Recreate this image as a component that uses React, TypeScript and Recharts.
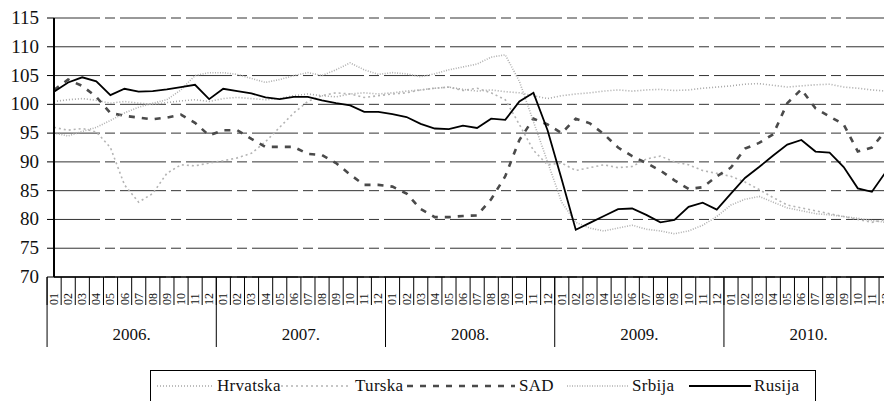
import React from 'react';
import { LineChart, Line, XAxis, YAxis, CartesianGrid } from 'recharts';

const months = ['01', '02', '03', '04', '05', '06', '07', '08', '09', '10', '11', '12'];
const years = ['2006.', '2007.', '2008.', '2009.', '2010.'];
const yTicks = [70, 75, 80, 85, 90, 95, 100, 105, 110, 115];

const hrvatska = [
  100.5, 100.8, 101.0, 100.7, 100.2, 100.5, 100.2, 100.0, 100.3, 100.6, 100.8, 100.5,
  101.0, 101.2, 101.0, 100.8, 101.0, 101.5, 101.8, 101.5, 101.3, 101.8, 102.0, 101.8,
  102.0, 102.3, 102.5, 102.8, 103.0, 102.6, 102.3, 102.5, 102.2, 102.0, 101.5, 101.0,
  101.5, 101.8, 102.0, 102.3, 102.5, 102.3, 102.5, 102.6, 102.4, 102.5, 102.8, 103.0,
  103.2, 103.5, 103.6, 103.3, 103.0, 103.2, 103.4, 103.5, 103.0, 102.8, 102.5, 102.3,
];
const turska = [
  96.0, 95.5, 95.8, 95.2, 92.5, 86.0, 83.0, 84.5, 88.0, 89.5, 89.3, 89.8,
  90.2, 90.7, 91.5, 93.5, 96.0, 98.5, 100.5, 101.5, 102.0, 101.8, 101.2, 101.5,
  101.8, 102.0, 102.5, 102.8, 103.0, 102.4, 102.8, 102.0, 100.8, 96.5, 92.0, 89.5,
  89.8, 88.5, 89.0, 89.5, 89.0, 89.2, 90.5, 91.0, 90.0, 89.5, 88.5, 88.0,
  87.5, 86.5, 85.2, 83.8, 82.5, 82.0, 81.5, 81.0, 80.5, 80.0, 79.5, 80.0,
];
const sad = [
  102.5, 104.3, 103.2, 101.3, 98.5, 98.0, 97.7, 97.4, 97.7, 98.2, 96.8, 94.6,
  95.5, 95.5, 94.0, 92.6, 92.6, 92.6, 91.4, 91.2, 89.8, 87.8, 86.0, 86.0,
  85.7, 84.5, 81.8, 80.4, 80.4, 80.6, 80.7, 83.5, 87.5, 93.8, 97.5, 96.5,
  95.0, 97.5, 96.7, 94.8, 92.5, 91.0, 89.8, 88.5, 86.8, 85.3, 85.6, 87.5,
  89.0, 92.3, 93.3, 94.8, 100.2, 102.6, 99.3, 97.9, 96.5, 91.8, 92.5, 95.5,
];
const srbija = [
  95.0, 94.5, 95.3, 96.0, 97.2, 98.5, 99.5, 100.2, 100.8, 102.5, 105.0, 105.5,
  105.5, 105.2, 104.5, 103.8, 104.3, 105.0, 105.5, 105.0, 106.0, 107.2, 106.0, 105.2,
  105.5, 105.3, 104.8, 105.3, 106.0, 106.5, 107.0, 108.2, 108.6, 104.0, 97.0, 90.0,
  83.0, 79.5, 78.5, 78.0, 78.5, 79.0, 78.3, 78.0, 77.5, 78.0, 79.0, 80.5,
  82.5, 83.5, 84.0, 83.0, 82.0, 81.5, 81.0, 80.8, 80.5, 80.2, 79.8, 79.5,
];
const rusija = [
  102.2, 103.8, 104.7, 104.0, 101.6, 102.7, 102.2, 102.3, 102.6, 103.0, 103.4, 100.9,
  102.7, 102.3, 101.9, 101.2, 100.9, 101.3, 101.3, 100.7, 100.2, 99.8, 98.7, 98.7,
  98.3, 97.8, 96.6, 95.8, 95.7, 96.3, 95.9, 97.5, 97.3, 100.5, 102.0, 95.5,
  87.0, 78.2, 79.4, 80.6, 81.8, 81.9, 80.8, 79.5, 79.9, 82.2, 82.9, 81.7,
  84.5, 87.2, 89.1, 91.1, 93.0, 93.8, 91.8, 91.6, 89.1, 85.4, 84.8, 88.3,
];

const data = rusija.map((_, i) => ({
  idx: i,
  Hrvatska: hrvatska[i],
  Turska: turska[i],
  SAD: sad[i],
  Srbija: srbija[i],
  Rusija: rusija[i],
}));

const CHART_W = 892;
const PLOT_LEFT = 54;
const PLOT_RIGHT = 886;
const BAND = (PLOT_RIGHT - PLOT_LEFT) / data.length;
const SERIF = '"Liberation Serif", "Times New Roman", serif';

const MonthTick = (props: any) => {
  const { x, y, payload, index } = props;
  const i = typeof payload?.value === 'number' ? payload.value : Number(index);
  const left = x - BAND / 2;
  return (
    <g>
      <line x1={left} x2={left} y1={y} y2={y + 28} stroke="#000" strokeWidth={1} />
      {i % 12 === 0 && (
        <line x1={left} x2={left} y1={y} y2={y + 70} stroke="#000" strokeWidth={1} />
      )}
      {i === data.length - 1 && (
        <line x1={x + BAND / 2} x2={x + BAND / 2} y1={y} y2={y + 70} stroke="#000" strokeWidth={1} />
      )}
      <text
        transform={`translate(${x + 4},${y + 28}) rotate(-90)`}
        fontSize={12}
        fontFamily={SERIF}
        fill="#111"
      >
        {months[i % 12]}
      </text>
      {i % 12 === 6 && (
        <text x={left} y={y + 63} textAnchor="middle" fontSize={17} fontFamily={SERIF} fill="#111">
          {years[Math.floor(i / 12)]}
        </text>
      )}
    </g>
  );
};

const YTick = (props: any) => {
  const { x, y, payload } = props;
  return (
    <text x={x} y={y} dy={6} textAnchor="end" fontSize={19} fontFamily={SERIF} fill="#111">
      {payload.value}
    </text>
  );
};

const series = [
  { key: 'Hrvatska', color: '#a8a8a8', width: 1.6, dash: '1 2' },
  { key: 'Turska', color: '#b4b4b4', width: 1.6, dash: '2 3' },
  { key: 'SAD', color: '#4a4a4a', width: 2.6, dash: '6 7' },
  { key: 'Srbija', color: '#b0b0b0', width: 1.6, dash: '1 1.5' },
  { key: 'Rusija', color: '#000000', width: 1.8, dash: undefined as string | undefined },
];

const legendItems = [
  { key: 'Hrvatska', sx: 6, sw: 56, tx: 66 },
  { key: 'Turska', sx: 130, sw: 70, tx: 204 },
  { key: 'SAD', sx: 256, sw: 108, tx: 368 },
  { key: 'Srbija', sx: 416, sw: 62, tx: 481 },
  { key: 'Rusija', sx: 538, sw: 62, tx: 603 },
];

export default function App() {
  return (
    <div
      style={{
        margin: -8,
        width: 892,
        height: 409,
        overflow: 'hidden',
        position: 'relative',
        background: '#fff',
        fontFamily: SERIF,
      }}
    >
      <LineChart
        width={CHART_W}
        height={409}
        data={data}
        margin={{ top: 18, right: CHART_W - PLOT_RIGHT, left: 0, bottom: 0 }}
        style={{ fontFamily: SERIF, overflow: 'visible' }}
      >
        <CartesianGrid vertical={false} stroke="#333" strokeDasharray="46 5 10 5" />
        <XAxis
          dataKey="idx"
          type="category"
          interval={0}
          height={132}
          tickSize={0}
          tickMargin={0}
          tickLine={false}
          axisLine={{ stroke: '#000', strokeWidth: 1.5 }}
          tick={<MonthTick />}
        />
        <YAxis
          domain={[70, 115]}
          ticks={yTicks}
          width={PLOT_LEFT}
          interval={0}
          tickSize={7}
          tickMargin={8}
          axisLine={{ stroke: '#000', strokeWidth: 2 }}
          tickLine={{ stroke: '#000' }}
          tick={<YTick />}
        />
        {series.map((s) => (
          <Line
            key={s.key}
            type="linear"
            dataKey={s.key}
            stroke={s.color}
            strokeWidth={s.width}
            strokeDasharray={s.dash}
            dot={false}
            isAnimationActive={false}
          />
        ))}
      </LineChart>
      <div
        style={{
          position: 'absolute',
          left: 150,
          top: 370,
          width: 664,
          height: 30,
          border: '1px solid #000',
          fontFamily: SERIF,
          fontSize: 17,
          color: '#111',
        }}
      >
        {legendItems.map((it) => {
          const s = series.find((x) => x.key === it.key)!;
          return (
            <React.Fragment key={it.key}>
              <svg style={{ position: 'absolute', left: it.sx, top: 12 }} width={it.sw} height={6}>
                <line
                  x1={0}
                  x2={it.sw}
                  y1={3}
                  y2={3}
                  stroke={s.color}
                  strokeWidth={s.width}
                  strokeDasharray={s.dash}
                />
              </svg>
              <span style={{ position: 'absolute', left: it.tx, top: 5, whiteSpace: 'nowrap', letterSpacing: 0.3 }}>
                {it.key}
              </span>
            </React.Fragment>
          );
        })}
      </div>
    </div>
  );
}
